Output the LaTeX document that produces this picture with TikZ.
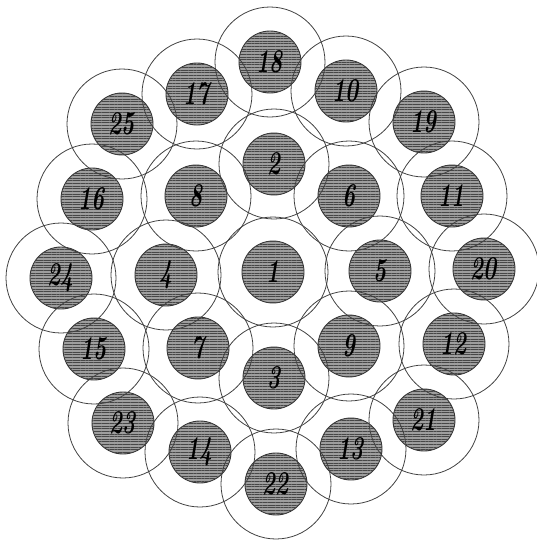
\documentclass[tikz,border=0pt]{standalone}
\usetikzlibrary{patterns.meta}
\tikzset{
  core/.style={draw=black!80, line width=0.5pt, fill=black!38,
    postaction={pattern={Lines[angle=0,distance=1.5pt,line width=0.45pt]}, pattern color=black!72}},
  ring/.style={draw=black!75, line width=0.45pt},
  num/.style={font=\fontsize{14}{14}\selectfont\bfseries\itshape, inner sep=0pt,
    transform shape, xscale=0.9, yscale=1.35}
}
\begin{document}
\begin{tikzpicture}
\useasboundingbox (-5.460,-5.400) rectangle (5.280,5.440);
% hatched cores
\fill[core] (0.000,0.000) circle (0.62);
\fill[core] (0.020,2.160) circle (0.62);
\fill[core] (0.020,-2.120) circle (0.62);
\fill[core] (-2.140,-0.060) circle (0.62);
\fill[core] (2.140,0.020) circle (0.62);
\fill[core] (1.520,1.520) circle (0.62);
\fill[core] (-1.500,-1.520) circle (0.62);
\fill[core] (-1.540,1.520) circle (0.62);
\fill[core] (1.520,-1.480) circle (0.62);
\fill[core] (1.460,3.620) circle (0.62);
\fill[core] (3.580,1.520) circle (0.62);
\fill[core] (3.620,-1.440) circle (0.62);
\fill[core] (1.560,-3.540) circle (0.62);
\fill[core] (-1.460,-3.600) circle (0.62);
\fill[core] (-3.580,-1.540) circle (0.62);
\fill[core] (-3.620,1.460) circle (0.62);
\fill[core] (-1.520,3.560) circle (0.62);
\fill[core] (-0.060,4.200) circle (0.62);
\fill[core] (3.020,3.000) circle (0.62);
\fill[core] (4.220,0.060) circle (0.62);
\fill[core] (3.020,-2.960) circle (0.62);
\fill[core] (0.060,-4.240) circle (0.62);
\fill[core] (-3.000,-3.020) circle (0.62);
\fill[core] (-4.240,-0.120) circle (0.62);
\fill[core] (-3.020,2.960) circle (0.62);
% outer rings
\draw[ring] (0.000,0.000) circle (1.10);
\draw[ring] (0.020,2.160) circle (1.10);
\draw[ring] (0.020,-2.120) circle (1.10);
\draw[ring] (-2.140,-0.060) circle (1.10);
\draw[ring] (2.140,0.020) circle (1.10);
\draw[ring] (1.520,1.520) circle (1.10);
\draw[ring] (-1.500,-1.520) circle (1.10);
\draw[ring] (-1.540,1.520) circle (1.10);
\draw[ring] (1.520,-1.480) circle (1.10);
\draw[ring] (1.460,3.620) circle (1.10);
\draw[ring] (3.580,1.520) circle (1.10);
\draw[ring] (3.620,-1.440) circle (1.10);
\draw[ring] (1.560,-3.540) circle (1.10);
\draw[ring] (-1.460,-3.600) circle (1.10);
\draw[ring] (-3.580,-1.540) circle (1.10);
\draw[ring] (-3.620,1.460) circle (1.10);
\draw[ring] (-1.520,3.560) circle (1.10);
\draw[ring] (-0.060,4.200) circle (1.10);
\draw[ring] (3.020,3.000) circle (1.10);
\draw[ring] (4.220,0.060) circle (1.10);
\draw[ring] (3.020,-2.960) circle (1.10);
\draw[ring] (0.060,-4.240) circle (1.10);
\draw[ring] (-3.000,-3.020) circle (1.10);
\draw[ring] (-4.240,-0.120) circle (1.10);
\draw[ring] (-3.020,2.960) circle (1.10);
% numbers
\node[num] (n1) at (0.000,0.000) {1};
\node[num] (n2) at (0.020,2.160) {2};
\node[num] (n3) at (0.020,-2.120) {3};
\node[num] (n4) at (-2.140,-0.060) {4};
\node[num] (n5) at (2.140,0.020) {5};
\node[num] (n6) at (1.520,1.520) {6};
\node[num] (n7) at (-1.500,-1.520) {7};
\node[num] (n8) at (-1.540,1.520) {8};
\node[num] (n9) at (1.520,-1.480) {9};
\node[num] (n10) at (1.460,3.620) {10};
\node[num] (n11) at (3.580,1.520) {11};
\node[num] (n12) at (3.620,-1.440) {12};
\node[num] (n13) at (1.560,-3.540) {13};
\node[num] (n14) at (-1.460,-3.600) {14};
\node[num] (n15) at (-3.580,-1.540) {15};
\node[num] (n16) at (-3.620,1.460) {16};
\node[num] (n17) at (-1.520,3.560) {17};
\node[num] (n18) at (-0.060,4.200) {18};
\node[num] (n19) at (3.020,3.000) {19};
\node[num] (n20) at (4.220,0.060) {20};
\node[num] (n21) at (3.020,-2.960) {21};
\node[num] (n22) at (0.060,-4.240) {22};
\node[num] (n23) at (-3.000,-3.020) {23};
\node[num] (n24) at (-4.240,-0.120) {24};
\node[num] (n25) at (-3.020,2.960) {25};
\end{tikzpicture}
\end{document}
